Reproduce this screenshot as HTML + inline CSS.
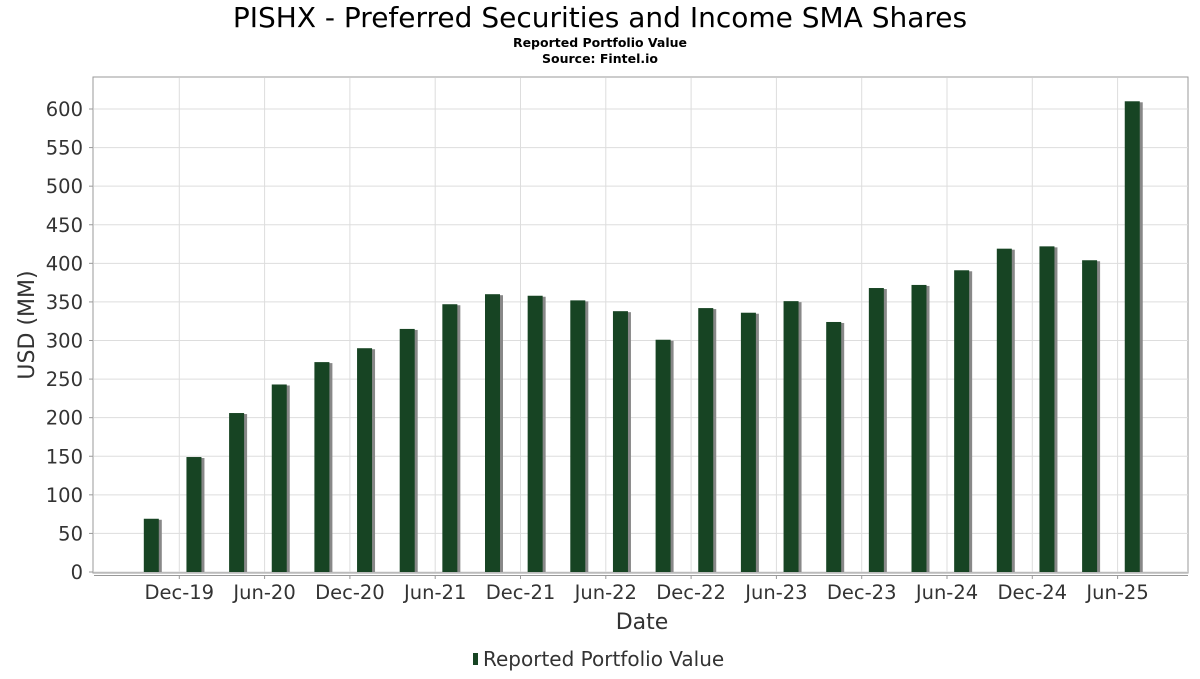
<!DOCTYPE html>
<html><head><meta charset="utf-8"><style>
body{margin:0;background:#fff;font-family:"DejaVu Sans","Liberation Sans",sans-serif;}
</style></head><body>
<svg id="c" width="1200" height="675" xmlns="http://www.w3.org/2000/svg">
<text x="600" y="27" text-anchor="middle" font-size="28" fill="#000">PISHX - Preferred Securities and Income SMA Shares</text>
<text x="600" y="47" text-anchor="middle" font-size="12.5" font-weight="bold">Reported Portfolio Value</text>
<text x="600" y="63" text-anchor="middle" font-size="12.5" font-weight="bold">Source: Fintel.io</text>
<rect x="93" y="77" width="1095" height="496" fill="none" stroke="#999"/>
<g id="grid"></g><g id="bars"></g><g id="axes"></g>
<text x="642" y="629" text-anchor="middle" font-size="22" fill="#333">Date</text>
<text transform="translate(34,325) rotate(-90)" text-anchor="middle" font-size="22" fill="#333">USD (MM)</text>
<g>
<rect x="473" y="653" width="5" height="12" fill="#174423"/>
<text x="483" y="666" font-size="20" fill="#333">Reported Portfolio Value</text>
</g>
</svg>
<script>
const values=[69,149,206,243,272,290,315,347,360,358,352,338,301,342,336,351,324,368,372,391,419,422,404,610];
const yTicks=[0,50,100,150,200,250,300,350,400,450,500,550,600];
const xLabels=["Dec-19","Jun-20","Dec-20","Jun-21","Dec-21","Jun-22","Dec-22","Jun-23","Dec-23","Jun-24","Dec-24","Jun-25"];
const NS="http://www.w3.org/2000/svg";
const y=v=>572-v*(463/600);
const xb=i=>151.3+i*42.65;
const xl=i=>179.3+i*85.3;
function mk(t,a,p){const e=document.createElementNS(NS,t);for(const k in a)e.setAttribute(k,a[k]);document.getElementById(p).appendChild(e);return e;}
yTicks.forEach(v=>{
 const l=mk('line',{x1:94,x2:1188,y1:y(v),y2:y(v),stroke:'#ddd'},'grid');
 
 
 const t=mk('text',{x:83,y:y(v)+7,'text-anchor':'end','font-size':19.5,fill:'#333'},'axes');t.textContent=v;
 
 
 mk('line',{x1:89,x2:93,y1:y(v),y2:y(v),stroke:'#999'},'axes');
});
xLabels.forEach((s,i)=>{
 const l=mk('line',{x1:xl(i),x2:xl(i),y1:78,y2:572,stroke:'#ddd'},'grid');
 
 
 mk('line',{x1:xl(i),x2:xl(i),y1:575,y2:579,stroke:'#999'},'axes');
 const t=mk('text',{x:xl(i),y:599,'text-anchor':'middle','font-size':19.5,fill:'#333'},'axes');t.textContent=s;
 
 
});
mk('line',{x1:94,x2:1188,y1:575.5,y2:575.5,stroke:'#999'},'axes');
values.forEach((v,i)=>{
 const s=mk('rect',{x:xb(i)-7.5+3,y:y(v)+1,width:15,height:572-y(v)-1,fill:'#888'},'bars');
 
 
 const b=mk('rect',{x:xb(i)-7.5,y:y(v),width:15,height:572-y(v),fill:'#174423'},'bars');
 
 
});
</script>
</body></html>
